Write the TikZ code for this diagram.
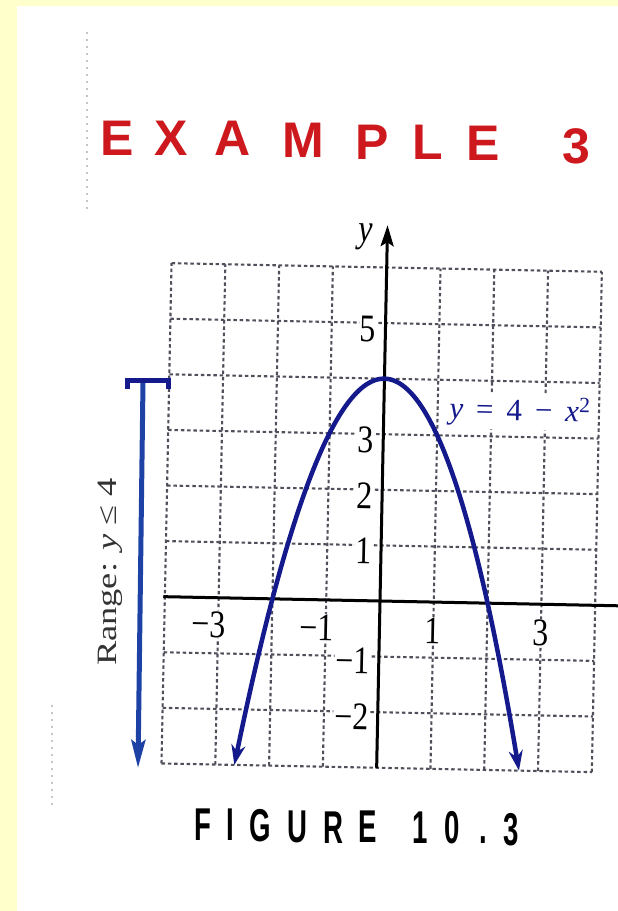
\documentclass[tikz,border=0pt]{standalone}
\usepackage{fontspec}
\setmainfont{Liberation Serif}
\newfontfamily\headfont{Liberation Sans}
\usetikzlibrary{arrows.meta}
\definecolor{paleyellow}{RGB}{255,255,204}
\definecolor{titlered}{RGB}{205,25,30}
\definecolor{curveblue}{RGB}{20,25,140}
\definecolor{rangeblue}{RGB}{30,65,165}
\definecolor{gridgray}{RGB}{80,80,92}
\newcommand{\tallnum}[1]{\scalebox{1}[1.22]{#1}}
\begin{document}
\begin{tikzpicture}[x=1pt,y=1pt,
  titleletter/.style={anchor=base, inner sep=0pt, text=titlered, font=\headfont\bfseries\fontsize{50}{50}\selectfont},
  capletter/.style={anchor=base, inner sep=0pt, text=black, font=\headfont\bfseries\fontsize{46}{46}\selectfont},
  gridline/.style={draw=gridgray, line width=2.1pt, dash pattern=on 3.5pt off 2.8pt},
  axisline/.style={draw=black, line width=3pt},
  curveline/.style={draw=curveblue, line width=4.5pt},
  ticklabel/.style={fill=white, inner sep=1pt, font=\fontsize{32}{32}\selectfont, rotate=-1.15},
  eqlabel/.style={fill=white, inner sep=3pt, text=curveblue, font=\fontsize{31}{31}\selectfont, rotate=-1.15},
  rangelabel/.style={rotate=90, inner sep=0pt, text=black!80, font=\fontsize{28}{28}\selectfont},
  artifact/.style={draw=gray!45, line width=1.5pt, dash pattern=on 2pt off 5pt}
]
\useasboundingbox (0,0) rectangle (618,-911);
\clip (0,0) rectangle (618,-911);
\fill[paleyellow] (0,0) rectangle (618,-911);
\fill[white] (17,-6) rectangle (618,-911);

% faint scan marks
\draw[artifact] (87,-32) -- (87,-212);
\draw[artifact] (52,-705) -- (52,-805);

% title
\node[titleletter] (t1) at (117.5,-155) {E};
\node[titleletter] (t2) at (171,-155) {X};
\node[titleletter] (t3) at (233,-155.5) {A};
\node[titleletter] (t4) at (303.5,-157) {M};
\node[titleletter] (t5) at (372,-159.5) {P};
\node[titleletter] (t6) at (427.5,-159) {L};
\node[titleletter] (t7) at (483.5,-160.5) {E};
\node[titleletter] (t8) at (576,-163) {3};

% caption
\node[capletter] (c1) at (202.5,-840) {\scalebox{0.6}[1]{F}};
\node[capletter] (c2) at (230,-840.5) {\scalebox{0.6}[1]{I}};
\node[capletter] (c3) at (260,-841.5) {\scalebox{0.6}[1]{G}};
\node[capletter] (c4) at (297,-842) {\scalebox{0.6}[1]{U}};
\node[capletter] (c5) at (333,-843) {\scalebox{0.6}[1]{R}};
\node[capletter] (c6) at (367.5,-842.5) {\scalebox{0.6}[1]{E}};
\node[capletter] (c7) at (420,-843) {\scalebox{0.6}[1]{1}};
\node[capletter] (c8) at (452.5,-843.5) {\scalebox{0.6}[1]{0}};
\node[capletter] (c9) at (483.5,-843) {\scalebox{0.6}[1]{.}};
\node[capletter] (c10) at (511,-845) {\scalebox{0.6}[1]{3}};

% graph
\begin{scope}[shift={(380,-601)}, rotate=-1.15, x=53.8pt, y=55.6pt]
  \foreach \i in {-4,...,4} \draw[gridline] (\i,-3) -- (\i,6);
  \foreach \j in {-3,...,6} \draw[gridline] (-4,\j) -- (4,\j);
  \coordinate (xl) at (-4.03,0);
  \coordinate (xr) at (4.7,0);
  \draw[axisline] (xl) -- (xr);
  \coordinate (yb) at (0,-3);
  \coordinate (yt) at (0,6.76);
  \draw[axisline, -{Stealth[length=21pt,width=13pt,inset=4pt]}] (yb) -- (yt);
  \node[ticklabel, fill=none, inner sep=0pt] (ylab) at (-0.41,6.54) {\tallnum{\textit{y}}};
  % y tick labels
  \node[ticklabel, anchor=east] (ly5) at (-0.15,4.89) {\tallnum{5}};
  \node[ticklabel, anchor=east] (ly3) at (-0.15,2.89) {\tallnum{3}};
  \node[ticklabel, anchor=east] (ly2) at (-0.15,1.89) {\tallnum{2}};
  \node[ticklabel, anchor=east] (ly1) at (-0.15,0.89) {\tallnum{1}};
  \node[ticklabel, anchor=east] (lym1) at (-0.15,-1.09) {\tallnum{−1}};
  \node[ticklabel, anchor=east] (lym2) at (-0.15,-2.09) {\tallnum{−2}};
  % x tick labels
  \node[ticklabel] (lxm3) at (-3,-0.48) {\tallnum{\llap{−}3}};
  \node[ticklabel] (lxm1) at (-1,-0.5) {\tallnum{\llap{−}1}};
  \node[ticklabel] (lx1) at (1,-0.52) {\tallnum{1}};
  \node[ticklabel] (lx3) at (3,-0.52) {\tallnum{3}};
  % parabola
  \draw[curveline, {Stealth[length=20pt,width=14pt]}-{Stealth[length=20pt,width=14pt]}]
    plot[domain=-2.6458:2.6458, samples=120, smooth] (\x,{4-\x*\x});
  \node[eqlabel] (eq) at (2.53,3.45) {\textit{y}\, = \,4\, − \,\textit{x}\textsuperscript{2}};
\end{scope}

% range arrow
\coordinate (rtop) at (143,-382);
\coordinate (rbot) at (138,-768);
\draw[rangeblue, line width=5pt, -{Stealth[length=28pt,width=14pt,inset=5pt]}] (rtop) -- (rbot);
\draw[curveblue, line width=5pt, line join=miter] (127.5,-389) -- (127.5,-380.5) -- (168,-380.5) -- (168,-389);
\node[rangelabel] (rlab) at (110,-572) {\scalebox{1.3}[1]{Range: \textit{y} ≤ 4}};
\end{tikzpicture}
\end{document}
